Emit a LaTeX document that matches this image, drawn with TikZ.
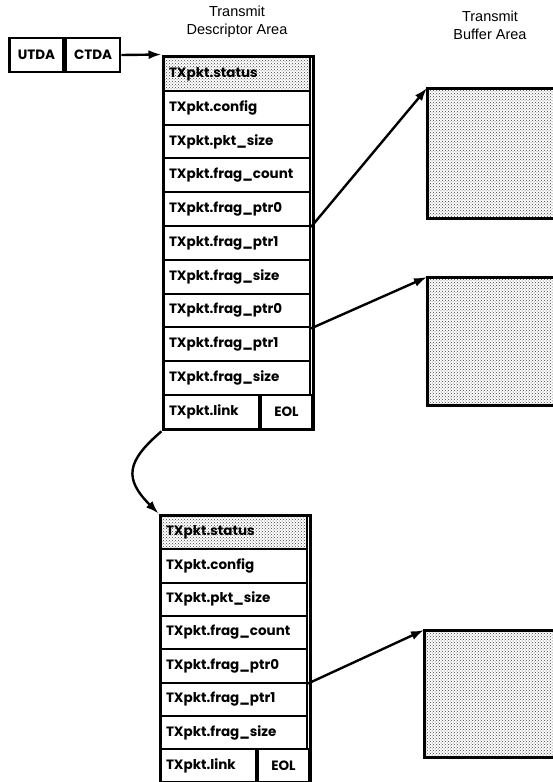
\documentclass[tikz,border=0pt]{standalone}
\usepackage{fontspec}
\setmainfont{Liberation Sans}
\newfontfamily\rowfont{Poppins}
\usetikzlibrary{positioning, fit, patterns, arrows.meta}
\tikzset{
  row/.style={rectangle, draw=black, line width=2pt, minimum width=146pt, minimum height=33.8pt, inner sep=0pt, text width=136pt, align=left, anchor=north west, font=\rowfont\bfseries\fontsize{13.5}{13.5}\selectfont},
  linkcell/.style={row, minimum width=95pt, text width=85pt},
  eolcell/.style={row, minimum width=51pt, text width=51pt, align=center},
  dotted fill/.style={pattern=crosshatch dots, pattern color=black!75},
  frame/.style={rectangle, draw=black, line width=3pt, inner sep=0pt},
  regbox/.style={rectangle, draw=black, line width=2.6pt, minimum width=54pt, minimum height=34pt, inner sep=0pt, font=\rowfont\bfseries\fontsize{13.5}{13.5}\selectfont},
  bufbox/.style={draw=black, line width=3pt, dotted fill},
  title/.style={align=center, font=\fontsize{14.5}{18}\selectfont},
  ptr/.style={line width=2.4pt, -{Latex[length=13pt, width=9pt]}}
}
\begin{document}
\begin{tikzpicture}[x=1pt, y=-1pt]
    \useasboundingbox (0,0) rectangle (552,782);
    % Titles
    \node (desctitle) at (237,22) [title] {Transmit\\Descriptor Area};
    \node (buftitle) at (490,25) [title] {Transmit\\Buffer Area};

    % Address registers
    \node (utda) at (36.5,55) [regbox] {UTDA};
    \node (ctda) [regbox, right=0pt of utda] {CTDA};

    % Upper descriptor
    \node (u1) at (163,56) [row, dotted fill] {TXpkt.status};
    \foreach \lbl [count=\i from 2] in {config, pkt\_size, frag\_count, frag\_ptr0, frag\_ptr1, frag\_size, frag\_ptr0, frag\_ptr1, frag\_size}
        \node (u\i) at (163, 56+33.8*\i-33.8) [row] {TXpkt.\lbl};
    \node (ulink) at (163, 56+33.8*10) [linkcell] {TXpkt.link};
    \node (ueol) [eolcell, right=0pt of ulink, anchor=west] {EOL};
    \node (uframe) [frame, fit=(u1) (ulink) (ueol)] {};

    % Lower descriptor
    \node (l1) at (160,515) [row, minimum height=33.3pt, dotted fill] {TXpkt.status};
    \foreach \lbl [count=\i from 2] in {config, pkt\_size, frag\_count, frag\_ptr0, frag\_ptr1, frag\_size}
        \node (l\i) at (160, 515+33.3*\i-33.3) [row, minimum height=33.3pt] {TXpkt.\lbl};
    \node (llink) at (160, 515+33.3*7) [linkcell, minimum height=33.3pt] {TXpkt.link};
    \node (leol) [eolcell, minimum height=33.3pt, right=0pt of llink, anchor=west] {EOL};
    \node (lframe) [frame, fit=(l1) (llink) (leol)] {};

    % Buffers
    \draw[bufbox] (427,88) coordinate (b1) rectangle (560,218);
    \draw[bufbox] (427,277) coordinate (b2) rectangle (560,405);
    \draw[bufbox] (424,630) coordinate (b3) rectangle (560,757);

    % Pointers
    \draw[ptr] (ctda.east) -- (uframe.north west);
    \draw[ptr] (u5.south east) -- (b1);
    \draw[ptr] (u8.south east) -- (b2);
    \draw[ptr] (l5.south east) -- (b3);
    \draw[ptr] (uframe.south west) .. controls +(-35,30) and +(-35,-35) .. (lframe.north west);
\end{tikzpicture}
\end{document}
